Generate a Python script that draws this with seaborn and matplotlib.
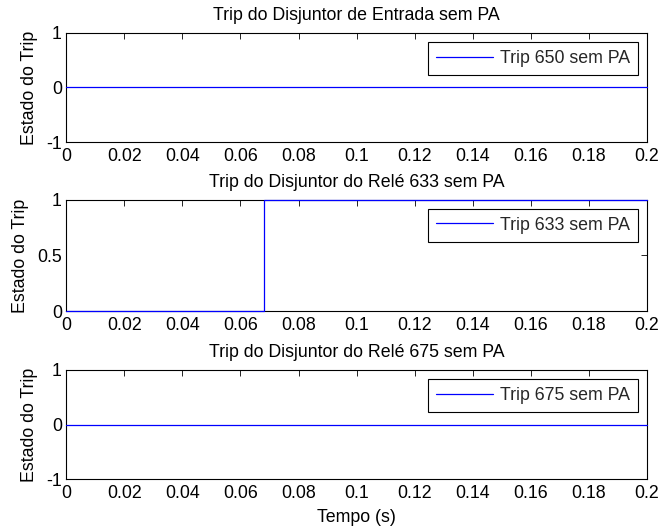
import matplotlib
matplotlib.use("Agg")
import matplotlib.pyplot as plt
import seaborn as sns
import pandas as pd

# Data
time_650 = [0.0, 0.2]
trip_650 = [0, 0]
time_633 = [0.0, 0.068, 0.068, 0.2]
trip_633 = [0, 0, 1, 1]
time_675 = [0.0, 0.2]
trip_675 = [0, 0]

titles = ["Trip do Disjuntor de Entrada sem PA",
          "Trip do Disjuntor do Relé 633 sem PA",
          "Trip do Disjuntor do Relé 675 sem PA"]
labels = ["Trip 650 sem PA", "Trip 633 sem PA", "Trip 675 sem PA"]
xticks = [0, 0.02, 0.04, 0.06, 0.08, 0.1, 0.12, 0.14, 0.16, 0.18, 0.2]
xticklabels = ["0", "0.02", "0.04", "0.06", "0.08", "0.1", "0.12", "0.14", "0.16", "0.18", "0.2"]

sns.set_theme(style="white")
plt.rcParams['font.family'] = ['Liberation Sans', 'DejaVu Sans']
FS = 12.8
plt.rcParams['font.size'] = FS

fig = plt.figure(figsize=(6.61, 5.30), dpi=100)
left, width = 0.100, 0.879
rects = [(left, 0.732, width, 0.206),
         (left, 0.413, width, 0.210),
         (left, 0.096, width, 0.206)]

series = [(time_650, trip_650), (time_633, trip_633), (time_675, trip_675)]
ylims = [(-1, 1), (0, 1), (-1, 1)]
yticks = [([-1, 0, 1], ["-1", "0", "1"]),
          ([0, 0.5, 1], ["0", "0.5", "1"]),
          ([-1, 0, 1], ["-1", "0", "1"])]

for i, (rect, (t, y)) in enumerate(zip(rects, series)):
    ax = fig.add_axes(rect)
    df = pd.DataFrame({"t": t, "y": y})
    sns.lineplot(data=df, x="t", y="y", ax=ax, color="#0000ff", linewidth=0.9,
                 label=labels[i], sort=False, estimator=None)
    for ln in ax.get_lines():
        ln.set_clip_on(False)
        ln.set_zorder(5)
    ax.set_xlim(0, 0.2)
    ax.set_ylim(*ylims[i])
    ax.set_xticks(xticks)
    ax.set_xticklabels(xticklabels, fontsize=FS)
    ax.set_yticks(yticks[i][0])
    ax.set_yticklabels(yticks[i][1], fontsize=FS)
    ax.tick_params(direction="in", top=True, right=True, length=4, width=0.6,
                   color="black", labelcolor="black")
    ax.tick_params(axis="x", pad=4.5)
    ax.tick_params(axis="y", pad=3)
    for s in ax.spines.values():
        s.set_color("black")
        s.set_linewidth(0.8)
        s.set_visible(True)
        s.set_zorder(2)
    ax.set_title(titles[i], fontsize=FS, pad=9, color="black")
    ax.set_ylabel("Estado do Trip", fontsize=FS, color="black", labelpad=6)
    ax.set_xlabel("Tempo (s)" if i == 2 else "", fontsize=FS, color="black", labelpad=5)
    leg = ax.legend(loc="upper right", fancybox=False, frameon=True, fontsize=FS,
                    handlelength=3.2, borderaxespad=0.5, borderpad=0.45,
                    handletextpad=0.4)
    leg.get_frame().set_edgecolor("black")
    leg.get_frame().set_linewidth(0.8)
    leg.get_frame().set_alpha(1)
    leg.set_zorder(10)

fig.savefig("out.png", dpi=100, facecolor="white")
